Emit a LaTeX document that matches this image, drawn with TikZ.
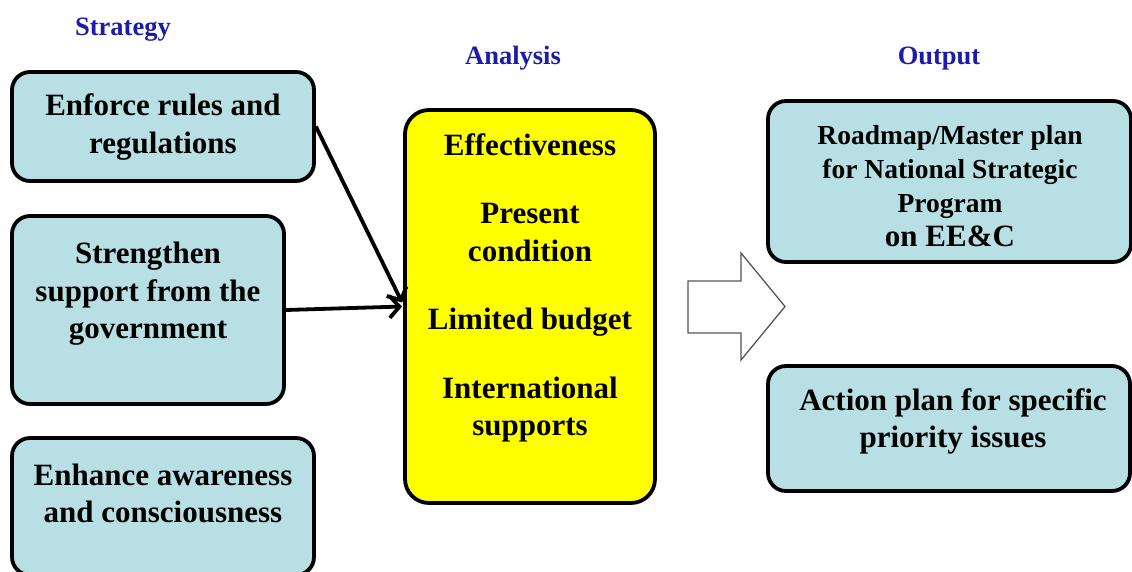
\documentclass[tikz,border=0pt]{standalone}
\usepackage{fontspec}
\setmainfont{Liberation Serif}
\usepackage{tikz}
\usetikzlibrary{arrows.meta,positioning,calc}
\definecolor{PlanBlue}{HTML}{B8DFE3}
\definecolor{PlanYellow}{HTML}{FFFF00}
\definecolor{PlanHead}{HTML}{1C1CAA}
\definecolor{PlanGrey}{HTML}{555555}
\begin{document}
\begin{tikzpicture}[
  x=1pt,y=-1pt,
  box/.style={draw=black,line width=3.8pt,fill=PlanBlue,rounded corners=18pt,inner sep=0pt},
  txt/.style={font=\bfseries\fontsize{31}{37.5}\selectfont,align=center,inner sep=0pt},
  head/.style={font=\bfseries\fontsize{26.5}{30}\selectfont,text=PlanHead,inner sep=0pt},
  arr/.style={-{Straight Barb[length=10pt,width=22pt,line width=3.8pt]},line width=3.8pt},
]
\useasboundingbox (0,0) rectangle (1132,571);
\clip (0,0) rectangle (1132,571);
% column headings
\node[head] (strategy) at (123,30) {Strategy};
\node[head] (analysis) at (513,58.5) {Analysis};
\node[head] (output) at (939,58.5) {Output};
% strategy boxes
\node[box,minimum width=302,minimum height=109] (enforce) at (163,126.5) {};
\node[txt] (enforcetxt) at (163,127) {Enforce rules and\\regulations};
\node[box,minimum width=272,minimum height=188] (strength) at (148,310) {};
\node[txt] (strengthtxt) at (148,294) {Strengthen\\support from the\\government};
\node[box,minimum width=302,minimum height=137] (enhance) at (163,506.5) {};
\node[txt] (enhancetxt) at (163,493.5) {Enhance awareness\\and consciousness};
% analysis
\node[box,fill=PlanYellow,rounded corners=24pt,minimum width=250,minimum height=393] (analysisbox) at (530,306.5) {};
\node[txt] (analysistxt) at (530,288) {Effectiveness\\[31pt]Present\\condition\\[31pt]Limited budget\\[31pt]International\\supports};
% output
\node[box,minimum width=363,minimum height=161] (roadmap) at (949.5,181.5) {};
\node[txt,font=\bfseries\fontsize{27.5}{34}\selectfont] (roadmaptxt) at (950,186.5) {Roadmap/Master plan\\for National Strategic\\Program\\{\fontsize{31}{36}\selectfont on EE\&C}};
\node[box,minimum width=362,minimum height=125] (action) at (949,428.5) {};
\node[txt] (actiontxt) at (953,421.5) {Action plan for specific\\priority issues};
% connectors
\coordinate (hit) at ($(analysisbox.west)+(-1,-4)$);
\draw[arr] (enforce.east) -- (hit);
\draw[arr] (strength.east) -- ($(analysisbox.west)+(-1,0)$);
% block arrow
\draw[PlanGrey,line width=1.3pt,fill=white] (688,281) -- (741,281) -- (741,253) -- (785,306.5) -- (741,360) -- (741,333) -- (688,333) -- cycle;
\end{tikzpicture}
\end{document}
